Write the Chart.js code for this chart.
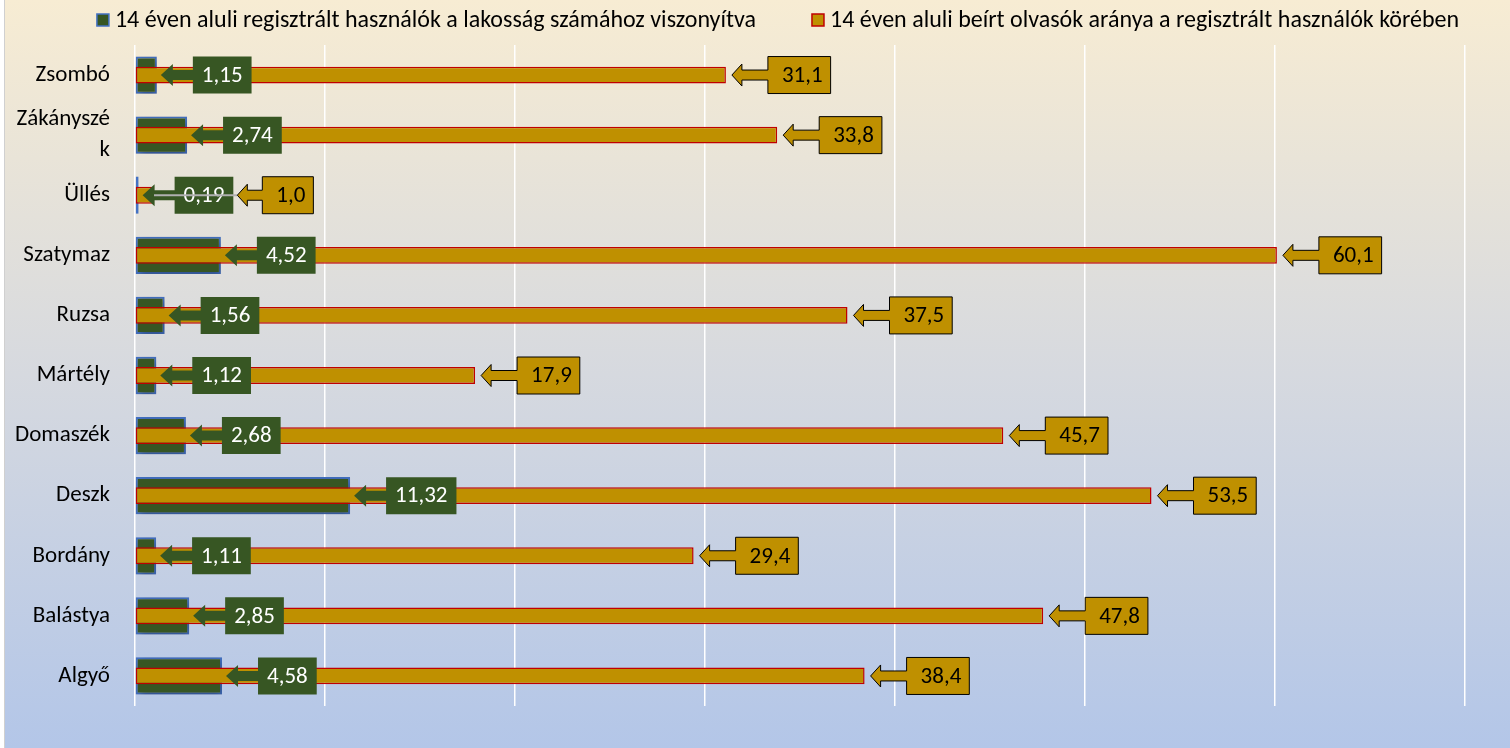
<!DOCTYPE html>
<html lang="hu">
<head>
    <meta charset="UTF-8">
    <meta name="viewport" content="width=device-width, initial-scale=1.0">
    <title>14 éven aluli használók és olvasók</title>

    <!-- Include Chart.js -->
    <script src="https://cdn.jsdelivr.net/npm/chart.js"></script>

    <style>
        body {
            margin: 0;
            padding: 0;
            background-color: #ffffff;
        }

        .container {
            width: 1510px;
            height: 748px;
            position: relative;
        }
    </style>
</head>
<body>
    <div class="container">
        <canvas id="myChart"></canvas>
    </div>

    <script>
        // Data
        var towns = ['Zsombó', ['Zákányszé', 'k'], 'Üllés', 'Szatymaz', 'Ruzsa', 'Mártély', 'Domaszék', 'Deszk', 'Bordány', 'Balástya', 'Algyő'];
        var registeredUsers = [1.15, 2.74, 0.19, 4.52, 1.56, 1.12, 2.68, 11.32, 1.11, 2.85, 4.58];
        var enrolledReaders = [31.1, 33.8, 1.0, 60.1, 37.5, 17.9, 45.7, 53.5, 29.4, 47.8, 38.4];
        var seriesNames = [
            '14 éven aluli regisztrált használók a lakosság számához viszonyítva',
            '14 éven aluli beírt olvasók aránya a regisztrált használók körében'
        ];
        var axisMax = 70;
        var axisStep = 10;

        var fontFamily = 'Carlito, Calibri, Lato, sans-serif';

        function huNumber(v, digits) {
            return v.toFixed(digits).replace('.', ',');
        }

        // Cream to blue background with a thin frame
        var backgroundPlugin = {
            id: 'background',
            beforeDraw: function(chart) {
                var c = chart.ctx;
                var g = c.createLinearGradient(0, 0, 0, chart.height);
                g.addColorStop(0, '#f7ecd3');
                g.addColorStop(0.5, '#d6d9df');
                g.addColorStop(1, '#b3c6e8');
                c.save();
                c.fillStyle = '#ffffff';
                c.fillRect(0, 0, chart.width, chart.height);
                c.fillStyle = g;
                c.fillRect(5, 0, chart.width - 5, chart.height);
                c.strokeStyle = '#d0d0d0';
                c.lineWidth = 1;
                c.strokeRect(4.5, -1, chart.width, chart.height + 2);
                c.restore();
            }
        };

        // Legend drawn by hand so the gap between the two entries matches
        var legendPlugin = {
            id: 'topLegend',
            afterDraw: function(chart) {
                var c = chart.ctx;
                var ds = chart.data.datasets;
                c.save();
                c.font = '24px ' + fontFamily;
                c.textBaseline = 'middle';
                c.textAlign = 'left';
                var gap = 56, box = 12, boxGap = 6;
                var widths = ds.map(function(d) { return box + boxGap + c.measureText(d.label).width; });
                var total = widths[0] + widths[1] + gap;
                var x = chart.width / 2 + 23 - total / 2;
                var y = 20;
                ds.forEach(function(d, i) {
                    c.fillStyle = d.backgroundColor;
                    c.fillRect(x, y - box / 2, box, box);
                    c.strokeStyle = d.borderColor;
                    c.lineWidth = 1.5;
                    c.strokeRect(x, y - box / 2, box, box);
                    c.fillStyle = '#000000';
                    c.fillText(d.label, x + box + boxGap, y + 1);
                    x += widths[i] + gap;
                });
                c.restore();
            }
        };

        // Soft shadow behind the green bars
        var shadowPlugin = {
            id: 'barShadow',
            beforeDatasetDraw: function(chart, args) {
                if (args.index === 0) {
                    var c = chart.ctx;
                    c.save();
                    c.shadowColor = 'rgba(0, 0, 0, 0.35)';
                    c.shadowBlur = 8;
                    c.shadowOffsetX = 2;
                    c.shadowOffsetY = 3;
                }
            },
            afterDatasetDraw: function(chart, args) {
                if (args.index === 0) {
                    chart.ctx.restore();
                }
            }
        };

        function calloutPath(c, tipX, y, boxLeft, boxW, boxH, headLen, headHalf, shaftHalf) {
            var top = y - boxH / 2, bot = y + boxH / 2, hb = tipX + headLen;
            c.beginPath();
            c.moveTo(boxLeft, top);
            c.lineTo(boxLeft + boxW, top);
            c.lineTo(boxLeft + boxW, bot);
            c.lineTo(boxLeft, bot);
            c.lineTo(boxLeft, y + shaftHalf);
            c.lineTo(hb, y + shaftHalf);
            c.lineTo(hb, y + headHalf);
            c.lineTo(tipX, y);
            c.lineTo(hb, y - headHalf);
            c.lineTo(hb, y - shaftHalf);
            c.lineTo(boxLeft, y - shaftHalf);
            c.closePath();
        }

        // Arrow callout labels for both series
        var calloutPlugin = {
            id: 'callouts',
            afterDatasetsDraw: function(chart) {
                var c = chart.ctx;
                var greenMeta = chart.getDatasetMeta(0);
                var goldMeta = chart.getDatasetMeta(1);
                c.save();
                c.font = '23px ' + fontFamily;
                c.textBaseline = 'middle';
                c.textAlign = 'center';

                var greenRights = [];
                greenMeta.data.forEach(function(bar, i) {
                    var text = huNumber(registeredUsers[i], 2);
                    var w = c.measureText(text).width + 18;
                    var boxLeft = bar.x + 36;
                    calloutPath(c, bar.x + 4, bar.y, boxLeft, w, 37, 12, 11, 5);
                    c.fillStyle = '#375623';
                    c.fill();
                    c.fillStyle = '#ffffff';
                    c.fillText(text, boxLeft + w / 2, bar.y + 1);
                    greenRights[i] = boxLeft + w;
                });

                goldMeta.data.forEach(function(bar, i) {
                    var text = huNumber(enrolledReaders[i], 1);
                    var w = c.measureText(text).width + 22;
                    var boxLeft = Math.max(bar.x + 42, greenRights[i] + 29);
                    var tipX = Math.max(bar.x + 6, greenRights[i] + 4);
                    if (tipX > bar.x + 6) {
                        c.strokeStyle = '#b0b0b0';
                        c.lineWidth = 2;
                        c.beginPath();
                        c.moveTo(bar.x, bar.y);
                        c.lineTo(tipX, bar.y);
                        c.stroke();
                    }
                    calloutPath(c, tipX, bar.y, boxLeft, w, 37, 10, 11, 5);
                    c.fillStyle = '#bf9000';
                    c.fill();
                    c.strokeStyle = '#000000';
                    c.lineWidth = 1;
                    c.stroke();
                    c.fillStyle = '#000000';
                    c.fillText(text, boxLeft + w / 2 + 3, bar.y + 1);
                });
                c.restore();
            }
        };

        var ctx = document.getElementById('myChart').getContext('2d');

        var myChart = new Chart(ctx, {
            type: 'bar',
            data: {
                labels: towns,
                datasets: [{
                    label: seriesNames[0],
                    data: registeredUsers,
                    backgroundColor: '#375623',
                    borderColor: '#4472c4',
                    borderWidth: 2,
                    borderSkipped: false,
                    grouped: false,
                    categoryPercentage: 1,
                    barPercentage: 0.62,
                    order: 1
                }, {
                    label: seriesNames[1],
                    data: enrolledReaders,
                    backgroundColor: '#bf9000',
                    borderColor: '#c00000',
                    borderWidth: 1.5,
                    borderSkipped: false,
                    grouped: false,
                    categoryPercentage: 1,
                    barPercentage: 0.28,
                    order: 0
                }]
            },
            options: {
                indexAxis: 'y',
                responsive: true,
                maintainAspectRatio: false,
                animation: false,
                layout: {
                    padding: { left: 4, right: 45, top: 45, bottom: 42 }
                },
                scales: {
                    x: {
                        min: 0,
                        max: axisMax,
                        ticks: { display: false, stepSize: axisStep },
                        grid: { color: '#ffffff', lineWidth: 1.5, drawTicks: false },
                        border: { display: false },
                        afterFit: function(scale) { scale.height = 0; }
                    },
                    y: {
                        grid: { display: false },
                        border: { display: false },
                        ticks: {
                            color: '#000000',
                            padding: 17,
                            autoSkip: false,
                            font: { family: fontFamily, size: 23, lineHeight: 1.35 }
                        },
                        afterFit: function(scale) { scale.width = 131; }
                    }
                },
                plugins: {
                    legend: { display: false },
                    tooltip: { enabled: false }
                }
            },
            plugins: [backgroundPlugin, shadowPlugin, calloutPlugin, legendPlugin]
        });
    </script>
</body>
</html>
